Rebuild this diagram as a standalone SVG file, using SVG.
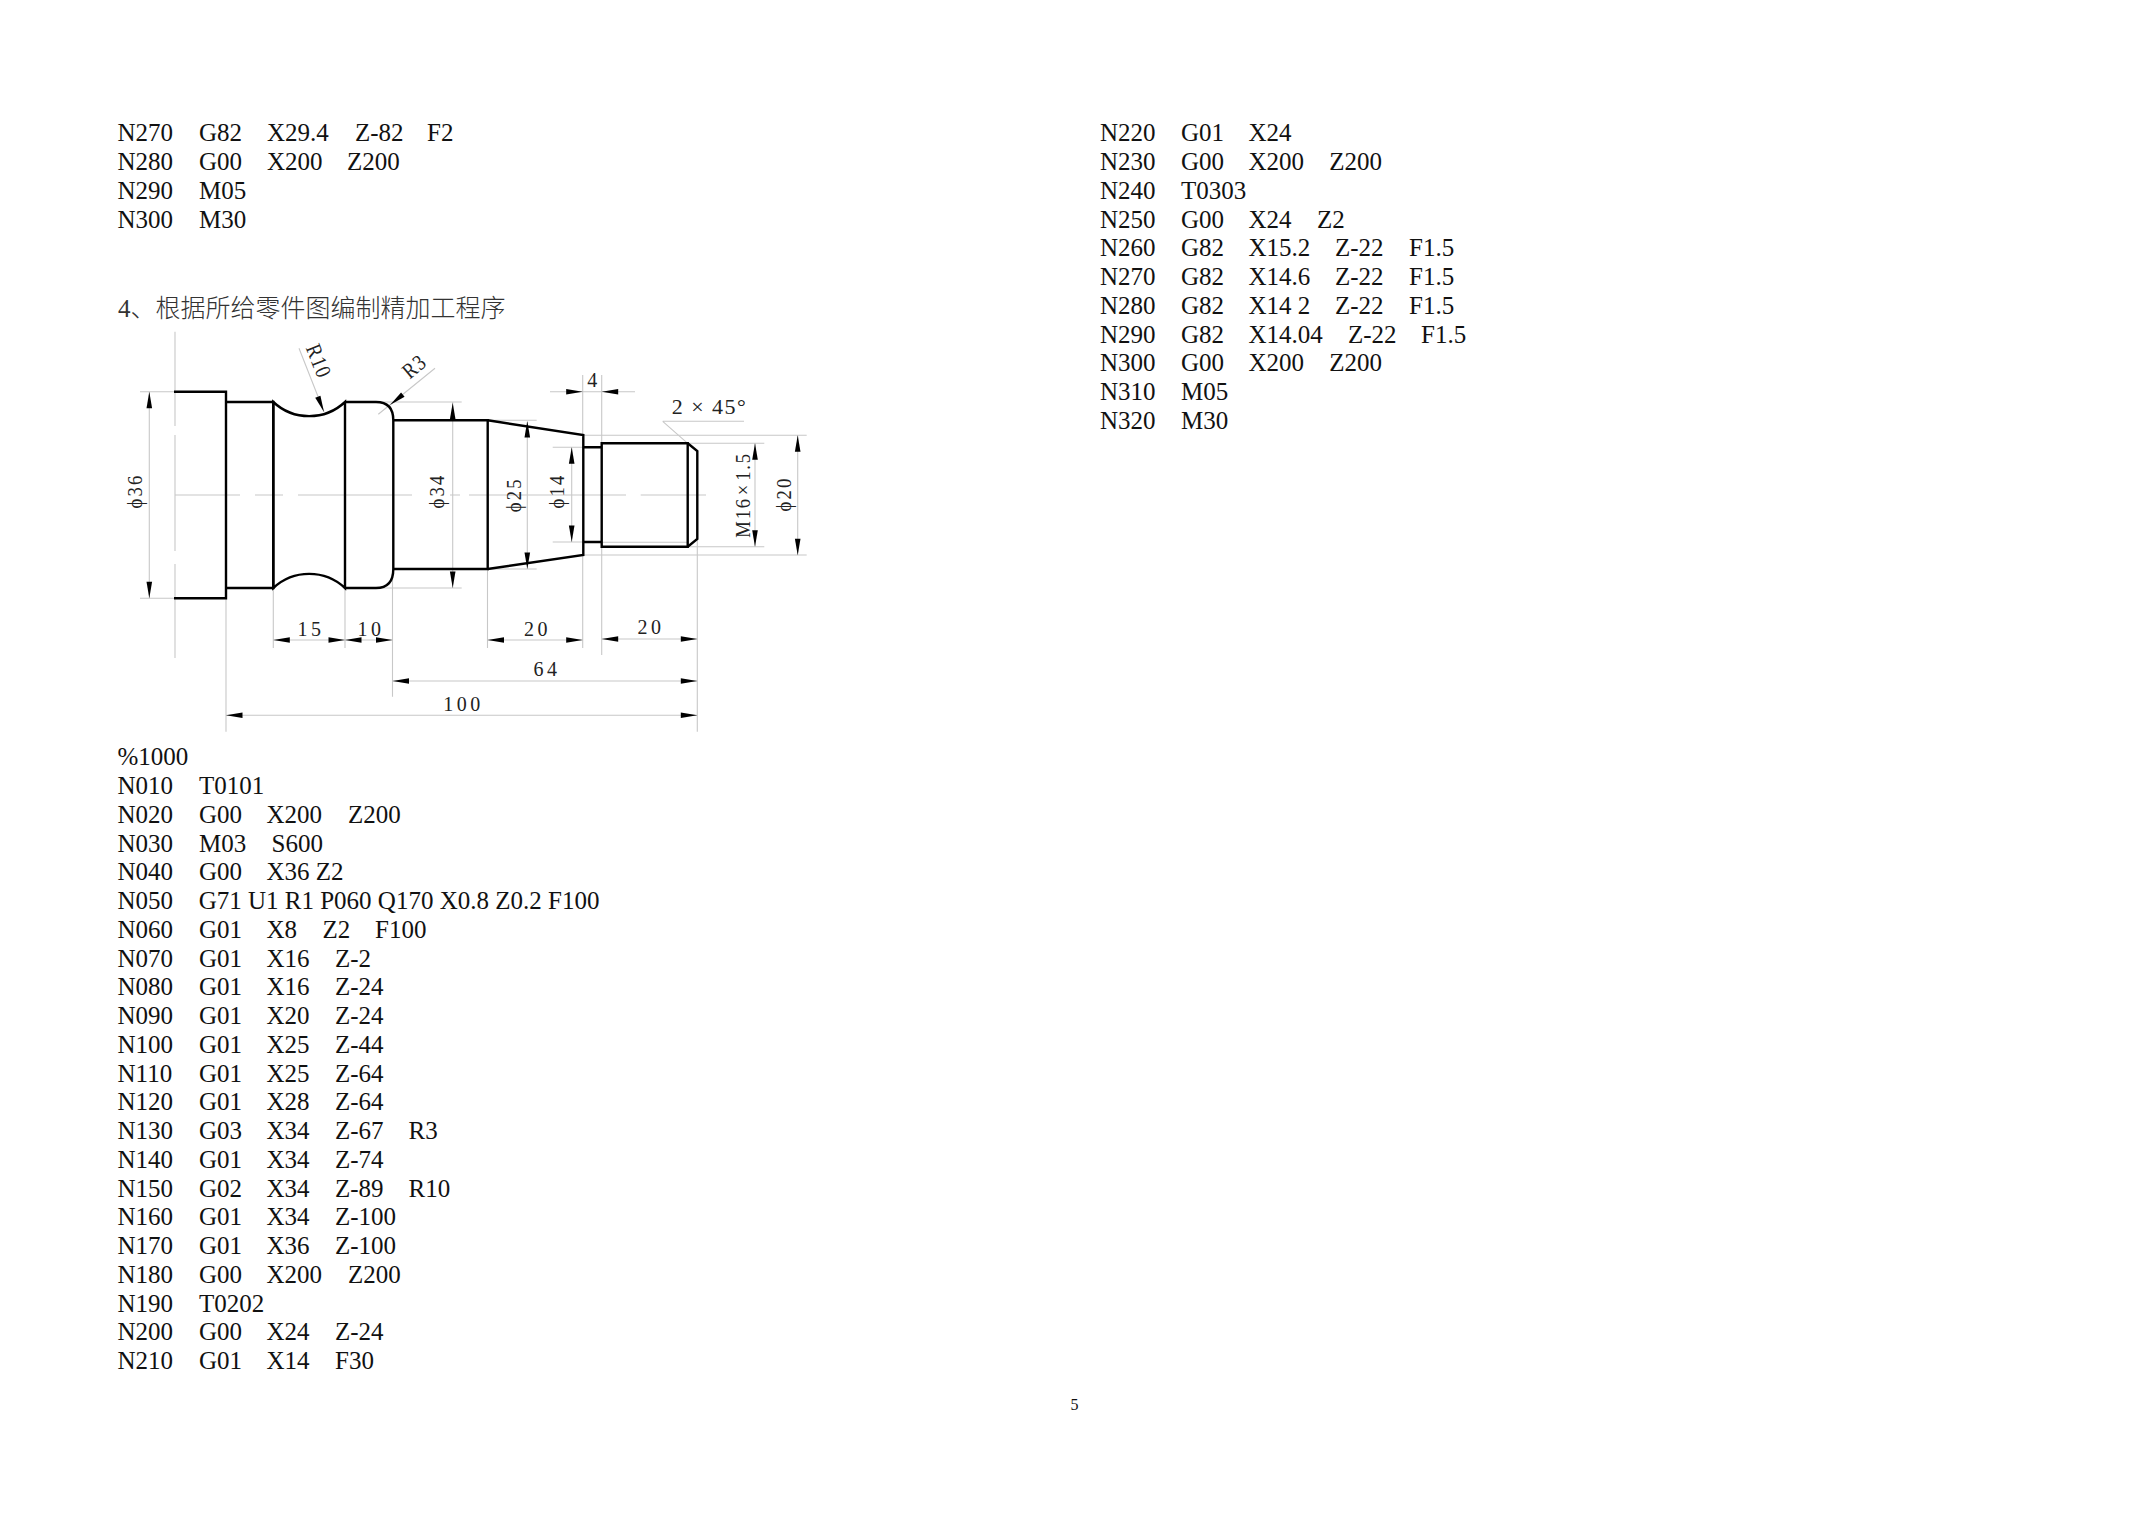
<svg xmlns="http://www.w3.org/2000/svg" xmlns:xlink="http://www.w3.org/1999/xlink" width="2150" height="1518" viewBox="0 0 2150 1518">
<style>
.t{font-family:"Liberation Serif","Times New Roman",serif;font-size:25px;fill:#111}
.h{font-family:"Liberation Serif","Noto Sans CJK SC",sans-serif;font-size:25px;font-weight:300;fill:#333}
.d{font-family:"Liberation Serif","DejaVu Serif",serif;font-size:20px;fill:#222;letter-spacing:3.5px;text-anchor:middle}
.v{font-family:"Liberation Serif","DejaVu Serif",serif;font-size:22px;fill:#222;letter-spacing:2.5px;text-anchor:middle}
.r{font-family:"Liberation Serif","DejaVu Serif",serif;font-size:22px;fill:#222;letter-spacing:1.5px;text-anchor:middle}
.o{fill:none;stroke:#000;stroke-width:2.4;stroke-linejoin:miter}
.n{fill:none;stroke:#c8c8c8;stroke-width:1.1}
.a{fill:#000}
</style>
<defs><path id="ah" class="a" d="M0 0L-16.5-2.8V2.8Z"/></defs>
<rect width="2150" height="1518" fill="#fff"/>
<g id="program-top">
<text class="t" y="141"><tspan x="117.5">N270</tspan><tspan x="199">G82</tspan><tspan x="267">X29.4</tspan><tspan x="355">Z-82</tspan><tspan x="427">F2</tspan></text>
<text class="t" y="169.8"><tspan x="117.5">N280</tspan><tspan x="199">G00</tspan><tspan x="267">X200</tspan><tspan x="347">Z200</tspan></text>
<text class="t" y="198.6"><tspan x="117.5">N290</tspan><tspan x="199">M05</tspan></text>
<text class="t" y="227.7"><tspan x="117.5">N300</tspan><tspan x="199">M30</tspan></text>
</g>
<text id="heading" class="h" x="118" y="316.5">4、根据所给零件图编制精加工程序</text>
<g id="part-thin">
<path class="n" d="M175 331.7V426M175 435V551M175 564V658"/>
<path class="n" d="M175 495H240M255 495H283M298 495H412M450 495H460M469 495H626M640.7 495H706"/>
<path class="n" d="M226 598V731.7M273.3 588V648M345 588V648M392.5 570V696.7M487.5 569V648M582.7 555V648M582.7 435V375M601.7 546.7V655M601.7 443V375M697.3 539V731.7"/>
<path class="n" d="M140 391.7H174M140 598.3H174M345 402H461.7M345 588H461.7M487.7 420.3H536.7M487.7 569H536.7M552.7 447.3H583M552.7 542H583M687.7 443.3H764.3M601.7 542.3H687.7M687.7 546.7H764.3M583 435.3H806.7M583 555H806.7"/>
<path class="n" d="M149.3 391.7V598.3M452.7 402V588M527.3 421.7V569M571.7 447.3V542M755 443.3V546.7M797.7 435.3V555"/>
<path class="n" d="M550 391.7H635M273.3 640H345M345 640H392.5M487.5 640H582.7M601.7 639H697.3M392.5 681H697.3M226 715.3H697.3"/>
<path class="n" d="M299 348.3L324 411.7M378.3 414.3L435 368.3M662.7 421.3H744M662.7 421.3L687.7 443.3"/>
</g>
<g id="part-outline">
<path class="o" d="M174 391.7H226V598.3H174"/>
<path class="o" d="M226 402H273.3V588H226"/>
<path class="o" d="M273.3 402A52.5 52.5 0 0 0 345 402V588A52.5 52.5 0 0 0 273.3 588Z"/>
<path class="o" d="M345 402H376Q393.3 402 393.3 420.3V569Q393.3 588 376 588H345"/>
<path class="o" d="M393.3 420.3H487.7V569H393.3"/>
<path class="o" d="M487.7 420.3L583.3 435V555L487.7 569"/>
<path class="o" d="M583.3 447.3H601.7M583.3 542H601.7"/>
<path class="o" d="M601.7 443.3H687.7V546.7H601.7Z"/>
<path class="o" d="M687.7 443.3L697.3 451V539L687.7 546.7"/>
</g>
<g id="arrowheads">
<use xlink:href="#ah" href="#ah" transform="translate(149.3 391.7) rotate(-90)"/>
<use xlink:href="#ah" href="#ah" transform="translate(149.3 598.3) rotate(90)"/>
<use xlink:href="#ah" href="#ah" transform="translate(452.7 402.7) rotate(-90)"/>
<use xlink:href="#ah" href="#ah" transform="translate(452.7 588) rotate(90)"/>
<use xlink:href="#ah" href="#ah" transform="translate(527.3 421) rotate(-90)"/>
<use xlink:href="#ah" href="#ah" transform="translate(527.3 569) rotate(90)"/>
<use xlink:href="#ah" href="#ah" transform="translate(571.7 447.3) rotate(-90)"/>
<use xlink:href="#ah" href="#ah" transform="translate(571.7 542) rotate(90)"/>
<use xlink:href="#ah" href="#ah" transform="translate(755 443.3) rotate(-90)"/>
<use xlink:href="#ah" href="#ah" transform="translate(755 546.7) rotate(90)"/>
<use xlink:href="#ah" href="#ah" transform="translate(797.7 435.3) rotate(-90)"/>
<use xlink:href="#ah" href="#ah" transform="translate(797.7 555.3) rotate(90)"/>
<use xlink:href="#ah" href="#ah" transform="translate(582.7 391.7)"/>
<use xlink:href="#ah" href="#ah" transform="translate(601.7 391.7) rotate(180)"/>
<use xlink:href="#ah" href="#ah" transform="translate(273.3 640) rotate(180)"/>
<use xlink:href="#ah" href="#ah" transform="translate(345 640)"/>
<use xlink:href="#ah" href="#ah" transform="translate(345 640) rotate(180)"/>
<use xlink:href="#ah" href="#ah" transform="translate(392.5 640)"/>
<use xlink:href="#ah" href="#ah" transform="translate(487.5 640) rotate(180)"/>
<use xlink:href="#ah" href="#ah" transform="translate(582.7 640)"/>
<use xlink:href="#ah" href="#ah" transform="translate(601.7 639) rotate(180)"/>
<use xlink:href="#ah" href="#ah" transform="translate(697.3 639)"/>
<use xlink:href="#ah" href="#ah" transform="translate(392.5 681) rotate(180)"/>
<use xlink:href="#ah" href="#ah" transform="translate(697.3 681)"/>
<use xlink:href="#ah" href="#ah" transform="translate(226 715.3) rotate(180)"/>
<use xlink:href="#ah" href="#ah" transform="translate(697.3 715.3)"/>
<use xlink:href="#ah" href="#ah" transform="translate(324 412) rotate(68)"/>
<use xlink:href="#ah" href="#ah" transform="translate(390 405) rotate(141)"/>
</g>
<g id="dimensions">
<text class="v" transform="translate(141.7 491) rotate(-90) scale(.85 1)">ϕ36</text>
<text class="v" transform="translate(444.3 491) rotate(-90) scale(.85 1)">ϕ34</text>
<text class="v" transform="translate(520.7 494.7) rotate(-90) scale(.85 1)">ϕ25</text>
<text class="v" transform="translate(564 491) rotate(-90) scale(.85 1)">ϕ14</text>
<text class="v" style="word-spacing:-5px;letter-spacing:2px" transform="translate(750 495) rotate(-90) scale(.85 1)">M16 × 1.5</text>
<text class="v" transform="translate(790.7 494) rotate(-90) scale(.85 1)">ϕ20</text>
<text class="d" x="594" y="386.7">4</text>
<text class="r" x="709.5" y="414">2 × 45°</text>
<text class="d" x="311" y="635.7">15</text>
<text class="d" x="371" y="635.7">10</text>
<text class="d" x="537.5" y="635.7">20</text>
<text class="d" x="651" y="634">20</text>
<text class="d" x="547" y="676">64</text>
<text class="d" x="463.5" y="710.7">100</text>
<text class="r" transform="translate(312 364) rotate(68) scale(.85 1)">R10</text>
<text class="r" transform="translate(419 372) rotate(-40) scale(.85 1)">R3</text>
</g>
<g id="program-left">
<text class="t" x="117.5" y="765.4">%1000</text>
<text class="t" y="794.1"><tspan x="117.5">N010</tspan><tspan x="199">T0101</tspan></text>
<text class="t" y="822.9"><tspan x="117.5">N020</tspan><tspan x="199">G00</tspan><tspan x="266.5">X200</tspan><tspan x="348">Z200</tspan></text>
<text class="t" y="851.6"><tspan x="117.5">N030</tspan><tspan x="199">M03</tspan><tspan x="271.5">S600</tspan></text>
<text class="t" y="880.4"><tspan x="117.5">N040</tspan><tspan x="199">G00</tspan><tspan x="266.5">X36 Z2</tspan></text>
<text class="t" y="909.1"><tspan x="117.5">N050</tspan><tspan x="198.7">G71 U1 R1 P060 Q170 X0.8 Z0.2 F100</tspan></text>
<text class="t" y="937.9"><tspan x="117.5">N060</tspan><tspan x="199">G01</tspan><tspan x="266.5">X8</tspan><tspan x="322.5">Z2</tspan><tspan x="375">F100</tspan></text>
<text class="t" y="966.6"><tspan x="117.5">N070</tspan><tspan x="199">G01</tspan><tspan x="266.5">X16</tspan><tspan x="335">Z-2</tspan></text>
<text class="t" y="995.4"><tspan x="117.5">N080</tspan><tspan x="199">G01</tspan><tspan x="266.5">X16</tspan><tspan x="335">Z-24</tspan></text>
<text class="t" y="1024.1"><tspan x="117.5">N090</tspan><tspan x="199">G01</tspan><tspan x="266.5">X20</tspan><tspan x="335">Z-24</tspan></text>
<text class="t" y="1052.9"><tspan x="117.5">N100</tspan><tspan x="199">G01</tspan><tspan x="266.5">X25</tspan><tspan x="335">Z-44</tspan></text>
<text class="t" y="1081.6"><tspan x="117.5">N110</tspan><tspan x="199">G01</tspan><tspan x="266.5">X25</tspan><tspan x="335">Z-64</tspan></text>
<text class="t" y="1110.4"><tspan x="117.5">N120</tspan><tspan x="199">G01</tspan><tspan x="266.5">X28</tspan><tspan x="335">Z-64</tspan></text>
<text class="t" y="1139.1"><tspan x="117.5">N130</tspan><tspan x="199">G03</tspan><tspan x="266.5">X34</tspan><tspan x="335">Z-67</tspan><tspan x="408.5">R3</tspan></text>
<text class="t" y="1167.9"><tspan x="117.5">N140</tspan><tspan x="199">G01</tspan><tspan x="266.5">X34</tspan><tspan x="335">Z-74</tspan></text>
<text class="t" y="1196.6"><tspan x="117.5">N150</tspan><tspan x="199">G02</tspan><tspan x="266.5">X34</tspan><tspan x="335">Z-89</tspan><tspan x="408.5">R10</tspan></text>
<text class="t" y="1225.4"><tspan x="117.5">N160</tspan><tspan x="199">G01</tspan><tspan x="266.5">X34</tspan><tspan x="335">Z-100</tspan></text>
<text class="t" y="1254.1"><tspan x="117.5">N170</tspan><tspan x="199">G01</tspan><tspan x="266.5">X36</tspan><tspan x="335">Z-100</tspan></text>
<text class="t" y="1282.9"><tspan x="117.5">N180</tspan><tspan x="199">G00</tspan><tspan x="266.5">X200</tspan><tspan x="348">Z200</tspan></text>
<text class="t" y="1311.6"><tspan x="117.5">N190</tspan><tspan x="199">T0202</tspan></text>
<text class="t" y="1340.4"><tspan x="117.5">N200</tspan><tspan x="199">G00</tspan><tspan x="266.5">X24</tspan><tspan x="335">Z-24</tspan></text>
<text class="t" y="1369.1"><tspan x="117.5">N210</tspan><tspan x="199">G01</tspan><tspan x="266.5">X14</tspan><tspan x="335">F30</tspan></text>
</g>
<g id="program-right">
<text class="t" y="141.3"><tspan x="1100">N220</tspan><tspan x="1181">G01</tspan><tspan x="1248.5">X24</tspan></text>
<text class="t" y="170.1"><tspan x="1100">N230</tspan><tspan x="1181">G00</tspan><tspan x="1248.5">X200</tspan><tspan x="1329.3">Z200</tspan></text>
<text class="t" y="198.8"><tspan x="1100">N240</tspan><tspan x="1181">T0303</tspan></text>
<text class="t" y="227.6"><tspan x="1100">N250</tspan><tspan x="1181">G00</tspan><tspan x="1248.5">X24</tspan><tspan x="1317">Z2</tspan></text>
<text class="t" y="256.3"><tspan x="1100">N260</tspan><tspan x="1181">G82</tspan><tspan x="1248.5">X15.2</tspan><tspan x="1335">Z-22</tspan><tspan x="1409">F1.5</tspan></text>
<text class="t" y="285.1"><tspan x="1100">N270</tspan><tspan x="1181">G82</tspan><tspan x="1248.5">X14.6</tspan><tspan x="1335">Z-22</tspan><tspan x="1409">F1.5</tspan></text>
<text class="t" y="313.8"><tspan x="1100">N280</tspan><tspan x="1181">G82</tspan><tspan x="1248.5">X14 2</tspan><tspan x="1335">Z-22</tspan><tspan x="1409">F1.5</tspan></text>
<text class="t" y="342.6"><tspan x="1100">N290</tspan><tspan x="1181">G82</tspan><tspan x="1248.5">X14.04</tspan><tspan x="1348">Z-22</tspan><tspan x="1421">F1.5</tspan></text>
<text class="t" y="371.3"><tspan x="1100">N300</tspan><tspan x="1181">G00</tspan><tspan x="1248.5">X200</tspan><tspan x="1329.3">Z200</tspan></text>
<text class="t" y="400.1"><tspan x="1100">N310</tspan><tspan x="1181">M05</tspan></text>
<text class="t" y="428.8"><tspan x="1100">N320</tspan><tspan x="1181">M30</tspan></text>
</g>
<text id="page-number" x="1074.5" y="1409.5" style="font-family:'Liberation Serif',serif;font-size:16px;fill:#111;text-anchor:middle">5</text>
</svg>
